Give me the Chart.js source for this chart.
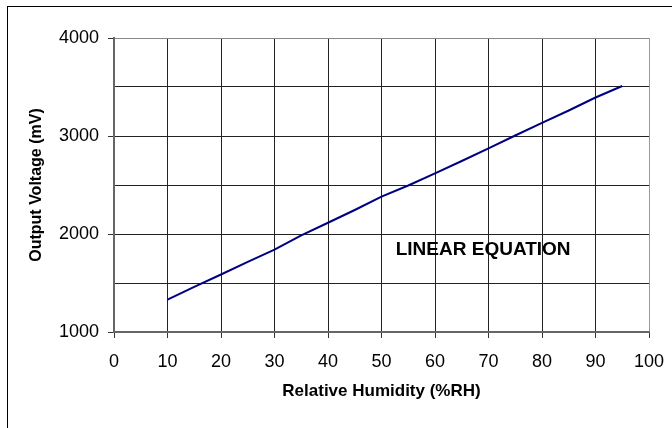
<!DOCTYPE html>
<html>
<head>
<meta charset="utf-8">
<script src="https://cdn.jsdelivr.net/npm/chart.js@4.4.0/dist/chart.umd.min.js"></script>
<style>
  html, body { margin: 0; padding: 0; background: #fff; overflow: hidden; }
  #frame {
    position: absolute; left: 7px; top: 6px;
    width: 720px; height: 480px;
    border: 1px solid #000;
  }
  #wrap { position: absolute; left: 0; top: 0; width: 672px; height: 428px; }
</style>
</head>
<body>
<div id="frame"></div>
<div id="wrap"><canvas id="humidityChart" width="672" height="428"></canvas></div>
<script>
// Data
const humidity = [10, 15, 20, 25, 30, 35, 40, 45, 50, 55, 60, 65, 70, 75, 80, 85, 90, 95];
const voltage = [1330, 1460, 1587, 1715, 1841, 1985, 2115, 2245, 2381, 2495, 2619, 2745, 2874, 3005, 3134, 3260, 3393, 3510];

const xTicks = [0, 10, 20, 30, 40, 50, 60, 70, 80, 90, 100];
const yLabels = [1000, 2000, 3000, 4000];

const noteText = "LINEAR EQUATION";
const noteAt = { x: 69, y: 1840 };

// Draws the "LINEAR EQUATION" note at data coordinates
const notePlugin = {
  id: "note",
  afterDatasetsDraw(chart) {
    const ctx = chart.ctx;
    const px = chart.scales.x.getPixelForValue(noteAt.x);
    const py = chart.scales.y.getPixelForValue(noteAt.y);
    ctx.save();
    ctx.font = "bold 19px 'Liberation Sans', Arial, sans-serif";
    ctx.fillStyle = "#000";
    ctx.textAlign = "center";
    ctx.textBaseline = "middle";
    ctx.fillText(noteText, px, py);
    ctx.restore();
  }
};

const points = humidity.map((h, i) => ({ x: h, y: voltage[i] }));

const tickFont = { family: "'Liberation Sans', Arial, sans-serif", size: 18 };

new Chart(document.getElementById("humidityChart").getContext("2d"), {
  type: "line",
  data: {
    datasets: [{
      data: points,
      borderColor: "#000080",
      borderWidth: 2,
      pointRadius: 0,
      tension: 0,
      fill: false
    }]
  },
  options: {
    responsive: false,
    animation: false,
    layout: { padding: { left: 8, top: 38, right: 23, bottom: 0 } },
    plugins: { legend: { display: false }, tooltip: { enabled: false } },
    scales: {
      x: {
        type: "linear",
        min: 0,
        max: 100,
        afterBuildTicks(scale) { scale.ticks = xTicks.map(v => ({ value: v })); },
        afterFit(scale) {
          scale.height = 96;
          // keep the plot edges fixed, labels fit inside the layout padding
          scale.paddingLeft = 0;
          scale.paddingRight = 0;
        },
        ticks: { font: tickFont, color: "#000", padding: 13, maxRotation: 0 },
        grid: {
          color: (c) => (c.tick && c.tick.value === 100 ? "#999" : "#222"),
          lineWidth: 1,
          tickLength: 6,
          tickColor: "#333"
        },
        border: { color: "#666", width: 2 },
        title: {
          display: true,
          text: "Relative Humidity (%RH)",
          font: { family: "'Liberation Sans', Arial, sans-serif", size: 17, weight: "bold" },
          color: "#000",
          padding: { top: 0, bottom: 26 }
        }
      },
      y: {
        min: 1000,
        max: 4000,
        afterFit(scale) { scale.width = 106; },
        ticks: {
          stepSize: 500,
          font: tickFont,
          color: "#000",
          padding: 9,
          callback: (v) => (yLabels.includes(v) ? String(v) : "")
        },
        grid: {
          color: (c) => (c.tick && c.tick.value === 4000 ? "#888" : "#222"),
          lineWidth: 1,
          tickLength: 6,
          tickColor: (c) => (c.tick && yLabels.includes(c.tick.value) ? "#333" : "rgba(0,0,0,0)")
        },
        border: { color: "#666", width: 2 },
        title: {
          display: true,
          text: "Output Voltage (mV)",
          font: { family: "'Liberation Sans', Arial, sans-serif", size: 16, weight: "bold" },
          color: "#000",
          padding: { top: 19, bottom: 0 }
        }
      }
    }
  },
  plugins: [notePlugin]
});
</script>
</body>
</html>
